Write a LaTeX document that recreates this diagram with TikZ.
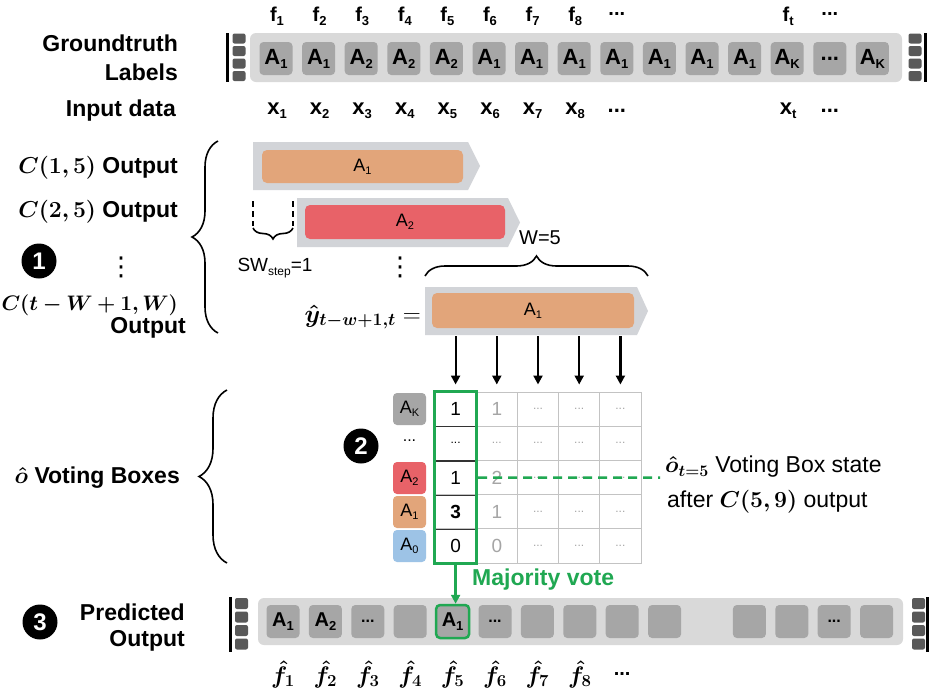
\RequirePackage{fix-cm}
\documentclass[tikz,border=0pt]{standalone}
\usepackage{amsmath,bm}
\usepackage[no-math]{fontspec}
\setmainfont{Liberation Sans}
\newfontfamily\djv{DejaVu Sans}
\usetikzlibrary{decorations.pathreplacing,arrows.meta,calc}
\definecolor{stripbg}{RGB}{217,217,217}
\definecolor{cellgray}{RGB}{166,166,166}
\definecolor{darksq}{RGB}{89,89,89}
\definecolor{barbg}{RGB}{210,212,216}
\definecolor{peach}{RGB}{226,165,122}
\definecolor{redbar}{RGB}{232,98,104}
\definecolor{lblue}{RGB}{157,195,230}
\definecolor{vgreen}{RGB}{32,168,82}
\definecolor{gridc}{RGB}{195,195,195}
\definecolor{greytxt}{RGB}{165,165,165}
\newcommand{\fs}[1]{\fontsize{#1}{#1}\selectfont}
\newcommand{\lab}[2]{#1\raisebox{-0.35ex}{\fs{13}#2}}
\newcommand{\labs}[3]{#1\raisebox{-0.35ex}{\fs{#3}#2}}
\newcommand{\gdots}{{\fs{12}...}}
\newcommand{\bdots}{...}
\tikzset{
 cellbox/.style={fill=cellgray, rounded corners=4pt, minimum width=33pt, minimum height=33pt, inner sep=0pt, font=\fs{22}\bfseries},
 bcellbox/.style={fill=cellgray, rounded corners=4pt, minimum width=33pt, minimum height=33pt, inner sep=0pt, font=\fs{20}\bfseries},
 endsq/.style={fill=darksq, rounded corners=2pt, minimum width=13pt, minimum height=10pt, inner sep=0pt},
 toplab/.style={font=\fs{20}\bfseries, inner sep=0pt},
 xlab/.style={font=\fs{22}\bfseries, inner sep=0pt},
 boldlab/.style={font=\fs{23}\bfseries, inner sep=0pt, anchor=east},
 barin/.style={rounded corners=5pt, inner sep=0pt, font=\fs{18}},
 numcirc/.style={circle, fill=black, text=white, font=\fs{24}\bfseries, minimum size=35pt, inner sep=0pt},
 gcell/.style={draw=gridc, line width=1pt, minimum width=41.2pt, minimum height=34.2pt, inner sep=0pt, font=\fs{19}},
 rowlab/.style={rounded corners=4pt, minimum width=33pt, minimum height=32pt, inner sep=0pt, font=\fs{18}},
 varrow/.style={line width=2.2pt, -{Triangle[length=9pt,width=9pt]}},
 bracestyle/.style={decorate, decoration={brace, amplitude=#1}, line width=1.6pt},
 vdotlab/.style={font=\fs{26}\djv, inner sep=0pt},
}
\begin{document}
\begin{tikzpicture}[x=1pt,y=-1pt]
\fill[white] (0,0) rectangle (929,691);
\useasboundingbox (0,0) rectangle (929,691);

% ---------- top strip ----------
\node[fill=stripbg, rounded corners=6pt, minimum width=652pt, minimum height=49pt, inner sep=0pt] (tstrip) at (576,57.5) {};
\draw[line width=3pt] (227.5,33) -- (227.5,82);
\draw[line width=3pt] (925.5,33) -- (925.5,82);
\foreach \k in {0,1,2,3} {
  \node[endsq] (tls\k) at (239,{38.5+12.5*\k}) {};
  \node[endsq] (trs\k) at (915,{38.5+12.5*\k}) {};
}
\foreach \i/\t in {0/\lab{A}{1},1/\lab{A}{1},2/\lab{A}{2},3/\lab{A}{2},4/\lab{A}{2},5/\lab{A}{1},6/\lab{A}{1},7/\lab{A}{1},8/\lab{A}{1},9/\lab{A}{1},10/\lab{A}{1},11/\lab{A}{1},12/\lab{A}{K},13/\bdots,14/\lab{A}{K}}
  \node[cellbox] (tc\i) at ({276+42.6*\i},58.5) {\t};
\foreach \i in {1,2,3,4,5,6,7,8} {
  \node[toplab] (f\i) at ({277+42.6*(\i-1)},16) {\lab{f}{\i}};
  \node[xlab] (x\i) at ({277+42.6*(\i-1)},111) {\lab{x}{\i}};
}
\node[toplab] (fd1) at ({276+42.6*8},14) {\bdots};
\node[toplab] (ft) at ({277+42.6*12},16) {\lab{f}{t}};
\node[toplab] (fd2) at ({276+42.6*13},14) {\bdots};
\node[xlab] (xd1) at ({276+42.6*8},111) {\bdots};
\node[xlab] (xt) at ({277+42.6*12},111) {\lab{x}{t}};
\node[xlab] (xd2) at ({276+42.6*13},111) {\bdots};

% ---------- left labels ----------
\node[boldlab] (gt1) at (178,43) {Groundtruth};
\node[boldlab] (gt2) at (178,72) {Labels};
\node[boldlab] (inp) at (176,111) {Input data};
\node[boldlab] (c15) at (178,168) {$\bm{C(1,5)}$ Output};
\node[boldlab] (c25) at (178,212) {$\bm{C(2,5)}$ Output};
\node[numcirc] (n1) at (39,261) {1};
\node[vdotlab] (vd1) at (121,267) {⋮};
\node[boldlab, font=\fs{21}\bfseries] (ctw) at (178,305) {$\bm{C(t-W+1,W)}$};
\node[boldlab] (out3) at (186,328) {Output};
\draw[bracestyle=26pt] (218,333) -- (218,141);

% ---------- sliding-window bars ----------
\fill[barbg] (253,142) -- (468,142) -- (480,166) -- (468,190) -- (253,190) -- cycle;
\node[barin, fill=peach, minimum width=201pt, minimum height=33pt] (bar1) at (362.5,166.5) {\labs{A}{1}{11}};
\fill[barbg] (297,198) -- (508,198) -- (520,222.5) -- (508,247) -- (297,247) -- cycle;
\node[barin, fill=redbar, minimum width=200pt, minimum height=34pt] (bar2) at (405,222) {\labs{A}{2}{11}};
\fill[barbg] (425,287) -- (637,287) -- (648,311) -- (637,335) -- (425,335) -- cycle;
\node[barin, fill=peach, minimum width=202pt, minimum height=35pt] (bar3) at (533,310.5) {\labs{A}{1}{11}};

\draw[line width=1.5pt, dash pattern=on 6pt off 4pt] (253,201) -- (253,226);
\draw[line width=1.5pt, dash pattern=on 6pt off 4pt] (293,201) -- (293,226);
\draw[bracestyle=11pt] (293,228) -- (253,228);
\node[font=\fs{19}, inner sep=0pt] (sw) at (275,268) {SW\raisebox{-0.45ex}{\fs{12}step}=1};
\node[vdotlab] (vd2) at (400,267) {⋮};
\draw[bracestyle=20pt] (425,276) -- (648,276);
\node[font=\fs{20}, inner sep=0pt] (w5) at (540,238) {W=5};
\node[font=\fs{25}, inner sep=0pt, anchor=east] (yhat) at (421,317) {$\bm{\hat{y}_{t-w+1,t}}=$};

% ---------- voting grid ----------
\foreach \r/\t in {0/1,1/\gdots,2/1,3/{\bfseries 3},4/0}
  \node[gcell] (g-0-\r) at ({435+41.2*0.5},{392+34.2*(\r+0.5)}) {\t};
\foreach \r/\t in {0/1,1/\gdots,2/2,3/1,4/0}
  \node[gcell, text=greytxt] (g-1-\r) at ({435+41.2*1.5},{392+34.2*(\r+0.5)}) {\t};
\foreach \c in {2,3,4}
  \foreach \r in {0,1,2,3,4}
    \node[gcell, text=greytxt] (g-\c-\r) at ({435+41.2*(\c+0.5)},{392+34.2*(\r+0.5)}) {\gdots};
\foreach \r in {0,1,2,3}
  \draw[line width=1.2pt, black!80] (g-0-\r.south west) -- (g-0-\r.south east);
\draw[vgreen, line width=3pt] (g-0-0.north west) rectangle (g-0-4.south east);

\foreach \c in {0,1,2,3,4} {
  \coordinate (a\c) at (g-\c-0.north |- bar3.south);
  \draw[varrow, shorten <=8pt, shorten >=7pt] (a\c) -- (g-\c-0.north);
}

\node[rowlab, fill=cellgray] (rk) at (409.5,409) {\labs{A}{K}{11}};
\node[font=\fs{16}, inner sep=0pt] (rd) at (409.5,441) {\bdots};
\node[rowlab, fill=redbar] (r2) at (409.5,478) {\labs{A}{2}{11}};
\node[rowlab, fill=peach] (r1) at (409.5,512) {\labs{A}{1}{11}};
\node[rowlab, fill=lblue] (r0) at (409.5,546) {\labs{A}{0}{11}};
\node[numcirc] (n2) at (361,446) {2};

\coordinate (dashend) at (660,477.5);
\draw[vgreen, line width=2.5pt, dash pattern=on 9pt off 6pt] ($(g-0-2.east)+(1.5,0)$) -- (dashend);
\node[anchor=west, font=\fs{23}, inner sep=0pt] (ostate) at (665,467) {$\bm{\hat{o}_{t=5}}$ Voting Box state};
\node[anchor=west, font=\fs{23}, inner sep=0pt] (after) at (667,502) {after $\bm{C(5,9)}$ output};

\node[boldlab] (vb) at (180,478) {$\bm{\hat{o}}$ Voting Boxes};
\draw[bracestyle=28pt] (227,563) -- (227,390);

% ---------- predicted output ----------
\node[fill=stripbg, rounded corners=6pt, minimum width=645pt, minimum height=47pt, inner sep=0pt] (bstrip) at (580.5,621.5) {};
\draw[line width=3pt] (230.5,597) -- (230.5,652);
\draw[line width=3pt] (927.5,597) -- (927.5,652);
\foreach \k in {0,1,2,3} {
  \node[endsq, minimum height=11pt] (bls\k) at (241.5,{603.5+13.5*\k}) {};
  \node[endsq, minimum height=11pt] (brs\k) at (918.5,{603.5+13.5*\k}) {};
}
\foreach \i/\t in {0/\lab{A}{1},1/\lab{A}{2},2/{\fs{16}\bdots},3/{},5/{\fs{16}\bdots},6/{},7/{},8/{},9/{},11/{},12/{},13/{\fs{16}\bdots},14/{}}
  \node[bcellbox] (bc\i) at ({283+42.4*\i},621.5) {\t};
\node[bcellbox, draw=vgreen, line width=2.5pt] (bc4) at ({283+42.4*4},621.5) {\lab{A}{1}};
\foreach \i in {1,2,3,4,5,6,7,8}
  \node[font=\fs{24}, inner sep=0pt] (fh\i) at ({283+42.4*(\i-1)},674) {$\bm{\hat{f}_{\i}}$};
\node[font=\fs{20}\bfseries, inner sep=0pt] (fhd) at ({283+42.4*8},674) {\bdots};

\draw[vgreen, line width=2.5pt, -{Triangle[length=9pt,width=9pt]}] (g-0-4.south) -- (g-0-4.south |- bc4.north);
\node[anchor=west, font=\fs{23}\bfseries, text=vgreen, inner sep=0pt] (mv) at (472,580) {Majority vote};

\node[numcirc] (n3) at (40,622) {3};
\node[boldlab] (pr1) at (185,612) {Predicted};
\node[boldlab] (pr2) at (185,641) {Output};
\end{tikzpicture}
\end{document}
